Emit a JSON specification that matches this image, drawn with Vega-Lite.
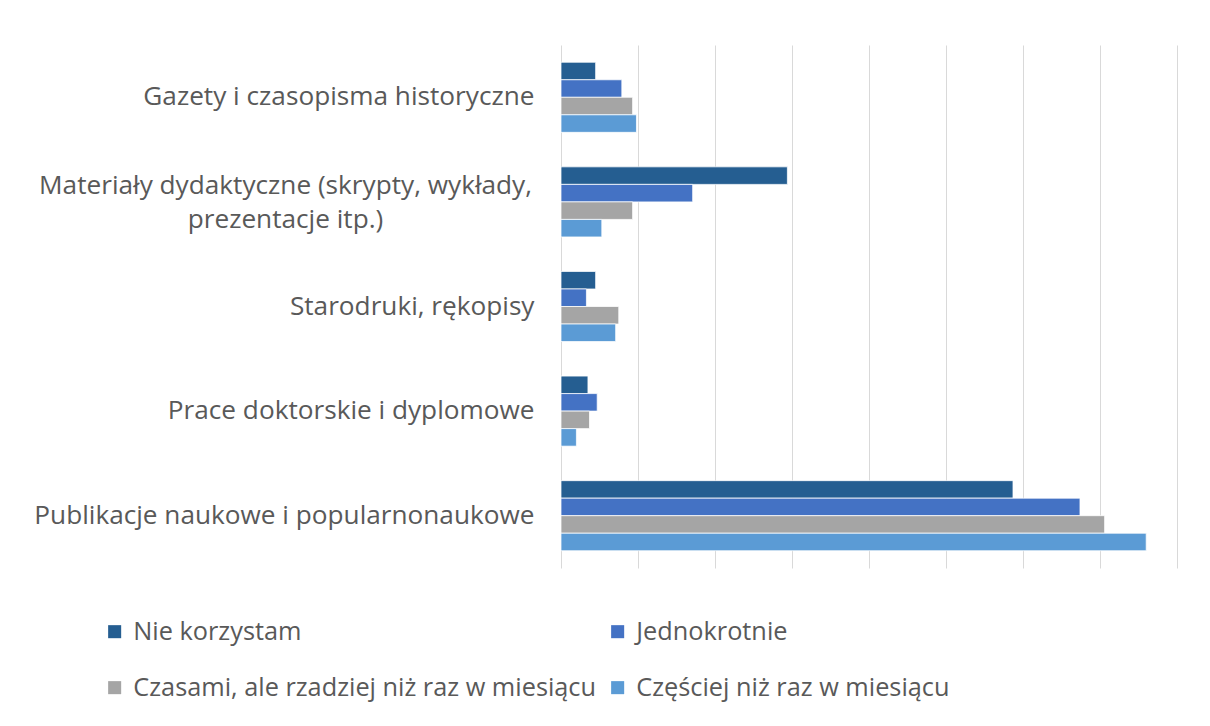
{
  "$schema": "https://vega.github.io/schema/vega-lite/v6.json",
  "width": 616,
  "height": 523,
  "autosize": {"type": "none"},
  "padding": {"left": 561, "top": 45, "right": 33, "bottom": 158},
  "background": "#ffffff",
  "config": {
    "view": {"stroke": null},
    "font": "Open Sans",
    "axis": {"labelFont": "Open Sans", "labelColor": "#595959"},
    "legend": {"labelFont": "Open Sans", "labelColor": "#595959"}
  },
  "data": {
    "values": [
      {"kategoria": "Gazety i czasopisma historyczne", "seria": "Nie korzystam", "wartosc": 4.5},
      {"kategoria": "Gazety i czasopisma historyczne", "seria": "Jednokrotnie", "wartosc": 7.9},
      {"kategoria": "Gazety i czasopisma historyczne", "seria": "Czasami, ale rzadziej niż raz w miesiącu", "wartosc": 9.3},
      {"kategoria": "Gazety i czasopisma historyczne", "seria": "Częściej niż raz w miesiącu", "wartosc": 9.8},
      {"kategoria": "Materiały dydaktyczne (skrypty, wykłady,|prezentacje itp.)", "seria": "Nie korzystam", "wartosc": 29.4},
      {"kategoria": "Materiały dydaktyczne (skrypty, wykłady,|prezentacje itp.)", "seria": "Jednokrotnie", "wartosc": 17.1},
      {"kategoria": "Materiały dydaktyczne (skrypty, wykłady,|prezentacje itp.)", "seria": "Czasami, ale rzadziej niż raz w miesiącu", "wartosc": 9.3},
      {"kategoria": "Materiały dydaktyczne (skrypty, wykłady,|prezentacje itp.)", "seria": "Częściej niż raz w miesiącu", "wartosc": 5.3},
      {"kategoria": "Starodruki, rękopisy", "seria": "Nie korzystam", "wartosc": 4.5},
      {"kategoria": "Starodruki, rękopisy", "seria": "Jednokrotnie", "wartosc": 3.3},
      {"kategoria": "Starodruki, rękopisy", "seria": "Czasami, ale rzadziej niż raz w miesiącu", "wartosc": 7.5},
      {"kategoria": "Starodruki, rękopisy", "seria": "Częściej niż raz w miesiącu", "wartosc": 7.1},
      {"kategoria": "Prace doktorskie i dyplomowe", "seria": "Nie korzystam", "wartosc": 3.5},
      {"kategoria": "Prace doktorskie i dyplomowe", "seria": "Jednokrotnie", "wartosc": 4.7},
      {"kategoria": "Prace doktorskie i dyplomowe", "seria": "Czasami, ale rzadziej niż raz w miesiącu", "wartosc": 3.7},
      {"kategoria": "Prace doktorskie i dyplomowe", "seria": "Częściej niż raz w miesiącu", "wartosc": 2.0},
      {"kategoria": "Publikacje naukowe i popularnonaukowe", "seria": "Nie korzystam", "wartosc": 58.7},
      {"kategoria": "Publikacje naukowe i popularnonaukowe", "seria": "Jednokrotnie", "wartosc": 67.4},
      {"kategoria": "Publikacje naukowe i popularnonaukowe", "seria": "Czasami, ale rzadziej niż raz w miesiącu", "wartosc": 70.6},
      {"kategoria": "Publikacje naukowe i popularnonaukowe", "seria": "Częściej niż raz w miesiącu", "wartosc": 76.0}
    ]
  },
  "mark": {"type": "bar", "stroke": "#ffffff", "strokeWidth": 0.75},
  "encoding": {
    "y": {
      "field": "kategoria",
      "type": "nominal",
      "sort": null,
      "scale": {"paddingInner": 0.33, "paddingOuter": 0.165},
      "axis": {
        "title": null,
        "domain": false,
        "ticks": false,
        "labelFontSize": 26.2,
        "labelPadding": {"condition": {"test": "indexof(datum.value, '|') >= 0", "value": 276}, "value": 27},
        "labelAlign": {"condition": {"test": "indexof(datum.value, '|') >= 0", "value": "center"}, "value": "right"},
        "labelLimit": 0,
        "labelLineHeight": 34,
        "labelOffset": {"condition": {"test": "indexof(datum.value, '|') >= 0", "value": -16}, "value": 0},
        "labelExpr": "split(datum.label, '|')"
      }
    },
    "yOffset": {
      "field": "seria",
      "type": "nominal",
      "sort": ["Nie korzystam", "Jednokrotnie", "Czasami, ale rzadziej niż raz w miesiącu", "Częściej niż raz w miesiącu"]
    },
    "x": {
      "field": "wartosc",
      "type": "quantitative",
      "scale": {"domain": [0, 80], "nice": false},
      "axis": {
        "title": null,
        "labels": false,
        "ticks": false,
        "domain": false,
        "grid": true,
        "gridColor": "#D9D9D9",
        "gridWidth": 1,
        "values": [0, 10, 20, 30, 40, 50, 60, 70, 80]
      }
    },
    "color": {
      "field": "seria",
      "type": "nominal",
      "sort": ["Nie korzystam", "Jednokrotnie", "Czasami, ale rzadziej niż raz w miesiącu", "Częściej niż raz w miesiącu"],
      "scale": {
        "domain": ["Nie korzystam", "Jednokrotnie", "Czasami, ale rzadziej niż raz w miesiącu", "Częściej niż raz w miesiącu"],
        "range": ["#255E91", "#4472C4", "#A5A5A5", "#5B9BD5"]
      },
      "legend": {
        "title": null,
        "orient": "none",
        "legendX": -459,
        "legendY": 574,
        "direction": "horizontal",
        "columns": 2,
        "columnPadding": 8,
        "rowPadding": 30,
        "symbolType": "square",
        "symbolSize": 170,
        "symbolStrokeWidth": 0,
        "labelFontSize": 25.3,
        "labelLimit": 0,
        "labelOffset": 6
      }
    }
  }
}
